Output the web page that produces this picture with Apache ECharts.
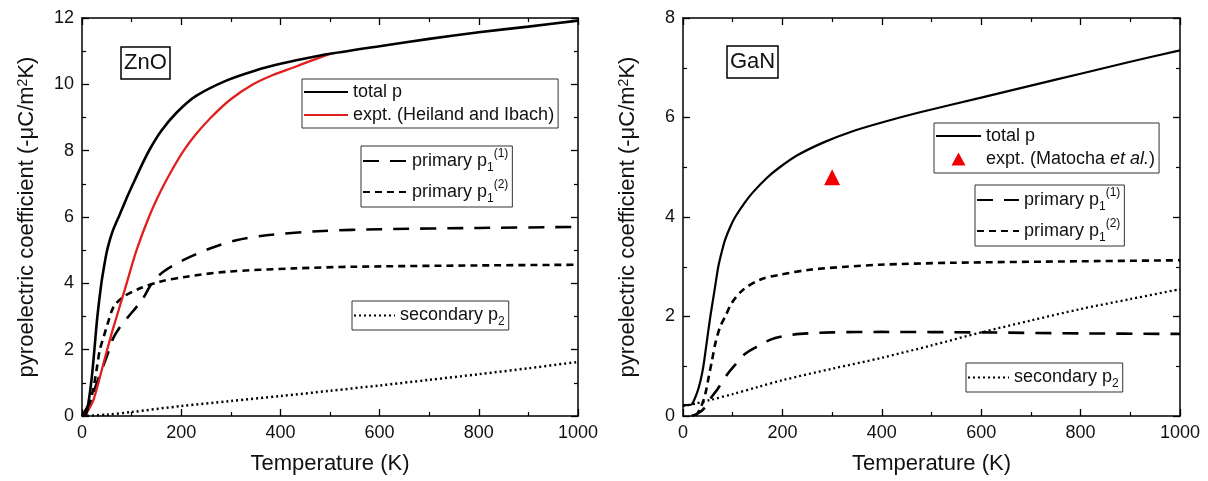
<!DOCTYPE html>
<html>
<head>
<meta charset="utf-8">
<script src="https://cdn.jsdelivr.net/npm/echarts@6/dist/echarts.min.js"></script>
<style>html,body{margin:0;padding:0;background:#fff}#c{width:1208px;height:481px}</style>
</head>
<body>
<div id="c"></div>
<script>
// ---------- data ----------
const xTicks = [0, 200, 400, 600, 800, 1000];
const yTicksZnO = [0, 2, 4, 6, 8, 10, 12];
const yTicksGaN = [0, 2, 4, 6, 8];

// ZnO
const znoTotalT = [0, 8, 13, 20, 25, 31, 39, 45, 50, 56, 62, 68, 74, 88, 103, 120, 137, 160, 191, 230, 292, 350, 400, 450, 500, 600, 700, 800, 900, 1000];
const znoTotalP = [0, 0.05, 0.4, 1.2, 2.0, 3.0, 4.0, 4.55, 4.95, 5.3, 5.58, 5.8, 6.0, 6.5, 7.0, 7.55, 8.05, 8.6, 9.15, 9.65, 10.12, 10.42, 10.62, 10.78, 10.92, 11.15, 11.37, 11.57, 11.74, 11.92];
const znoExptT = [0, 5, 13, 23, 33, 47, 60, 70, 90, 110, 135, 158, 180, 205, 230, 260, 300, 345, 385, 425, 465, 500];
const znoExptP = [0, 0.02, 0.18, 0.48, 1.0, 1.79, 2.5, 3.0, 4.0, 5.0, 6.0, 6.76, 7.38, 8.0, 8.5, 9.0, 9.55, 10.0, 10.28, 10.5, 10.73, 10.92];
const znoP11T = [0, 15, 30, 45, 56, 63, 77, 91, 121, 141, 164, 204, 258, 311, 372, 486, 600, 800, 1000];
const znoP11P = [0, 0.4, 1.0, 1.6, 2.05, 2.35, 2.69, 2.95, 3.5, 4.0, 4.35, 4.7, 5.05, 5.3, 5.45, 5.58, 5.63, 5.67, 5.7];
const znoP12T = [0, 12, 18, 25, 30, 36, 44, 51, 64, 84, 117, 157, 211, 292, 426, 546, 800, 1000];
const znoP12P = [0, 0.2, 0.5, 1.0, 1.45, 2.0, 2.4, 2.75, 3.3, 3.6, 3.85, 4.05, 4.2, 4.35, 4.45, 4.5, 4.54, 4.56];
const znoP2T = [0, 50, 100, 200, 300, 400, 500, 600, 700, 800, 900, 1000];
const znoP2P = [0, 0.04, 0.12, 0.3, 0.45, 0.6, 0.76, 0.92, 1.09, 1.26, 1.44, 1.63];

// GaN
const ganTotalT = [0, 10, 18, 28, 35, 41, 48, 55, 63, 71, 78, 85, 95, 105, 125, 141, 168, 192, 230, 283, 340, 400, 475, 600, 700, 800, 900, 1000];
const ganTotalP = [0.22, 0.22, 0.24, 0.46, 0.7, 1.0, 1.5, 2.0, 2.5, 3.0, 3.3, 3.55, 3.8, 4.0, 4.3, 4.5, 4.78, 4.98, 5.24, 5.5, 5.72, 5.9, 6.1, 6.4, 6.64, 6.88, 7.12, 7.35];
const ganExptT = [300];
const ganExptP = [4.8];
const ganP11T = [17, 30, 43, 53, 70, 90, 105, 125, 150, 175, 200, 235, 300, 400, 600, 800, 1000];
const ganP11P = [0, 0.05, 0.16, 0.32, 0.55, 0.85, 1.03, 1.25, 1.4, 1.53, 1.6, 1.65, 1.68, 1.69, 1.68, 1.66, 1.65];
const ganP12T = [25, 35, 45, 52, 58, 66, 75, 85, 98, 121, 155, 195, 255, 328, 395, 541, 800, 1000];
const ganP12P = [0, 0.15, 0.45, 0.8, 1.1, 1.5, 1.8, 2.0, 2.27, 2.54, 2.74, 2.84, 2.94, 3.0, 3.04, 3.08, 3.11, 3.13];
const ganP2T = [0, 25, 54, 100, 150, 200, 300, 400, 500, 600, 700, 800, 900, 1000];
const ganP2P = [0.2, 0.25, 0.32, 0.44, 0.58, 0.72, 0.95, 1.17, 1.42, 1.68, 1.92, 2.15, 2.35, 2.55];

const legendLabels = {
  zno_total: 'total p',
  zno_expt: 'expt. (Heiland and Ibach)',
  zno_p11: 'primary p{sub|1}{sup|(1)}',
  zno_p12: 'primary p{sub|1}{sup|(2)}',
  zno_p2: 'secondary p{sub|2}',
  gan_total: 'total p',
  gan_expt: 'expt. (Matocha {it|et al.})',
  gan_p11: 'primary p{sub|1}{sup|(1)}',
  gan_p12: 'primary p{sub|1}{sup|(2)}',
  gan_p2: 'secondary p{sub|2}'
};

// ---------- build ----------
const FONT = "'Liberation Sans', Arial, sans-serif";
const TXT = '#111';
const pairs = (xs, ys) => xs.map((x, i) => [x, ys[i]]);

function xAx(grid, pos, show) {
  return {
    type: 'value', gridIndex: grid, position: pos, min: xTicks[0], max: xTicks[xTicks.length - 1],
    interval: xTicks[1] - xTicks[0],
    axisLine: { show: true, onZero: false, lineStyle: { color: '#000', width: 1.5 } },
    axisTick: { show: true, inside: true, length: 7, lineStyle: { color: '#000', width: 1.3 } },
    minorTick: { show: true, splitNumber: 2, length: 4, lineStyle: { color: '#000', width: 1.2 } },
    splitLine: { show: false },
    axisLabel: { show: show, fontSize: 18, color: TXT, margin: 8, fontFamily: FONT, formatter: v => String(v) },
    name: show ? 'Temperature (K)' : '', nameLocation: 'middle', nameGap: 37,
    nameTextStyle: { fontSize: 22, color: TXT, fontFamily: FONT }
  };
}
function yAx(grid, pos, show, ticks) {
  return {
    type: 'value', gridIndex: grid, position: pos, min: ticks[0], max: ticks[ticks.length - 1],
    interval: ticks[1] - ticks[0],
    axisLine: { show: true, onZero: false, lineStyle: { color: '#000', width: 1.5 } },
    axisTick: { show: true, inside: true, length: 7, lineStyle: { color: '#000', width: 1.3 } },
    minorTick: { show: true, splitNumber: 2, length: 4, lineStyle: { color: '#000', width: 1.2 } },
    splitLine: { show: false },
    axisLabel: { show: show, fontSize: 18, color: TXT, margin: 8, fontFamily: FONT, formatter: v => String(v) },
    name: show ? 'pyroelectric coefficient (-μC/m{sup|2}K)' : '', nameLocation: 'middle', nameGap: 44,
    nameTextStyle: { fontSize: 22, color: TXT, fontFamily: FONT,
      rich: { sup: { fontSize: 14, verticalAlign: 'top', lineHeight: 14, fontFamily: FONT, color: TXT } } }
  };
}

const LONG = [16, 11], SHORT = [7, 5], DOT = [2, 3];
function line(name, xi, yi, xs, ys, color, width, type) {
  return {
    name: name, type: 'line', xAxisIndex: xi, yAxisIndex: yi, data: pairs(xs, ys),
    symbol: 'none', smooth: 0.3, animation: false, z: 3,
    lineStyle: { color: color, width: width, type: type, cap: 'butt' },
    itemStyle: { color: color }
  };
}

// triangle icon padded to the legend item box so that it is not stretched
const TRI_ICON = 'path://M0,7L0.01,7Z M45,7L44.99,7Z M15.5,14L22.5,1L29.5,14Z';

const richLegend = {
  sub: { fontSize: 12, verticalAlign: 'bottom', lineHeight: 14, fontFamily: FONT, color: TXT },
  sup: { fontSize: 12, verticalAlign: 'top', lineHeight: 14, fontFamily: FONT, color: TXT },
  it: { fontSize: 18, fontStyle: 'italic', fontFamily: FONT, color: TXT }
};
function leg(names, left, top, itemWidth, lineHeight, gap, pad) {
  return {
    data: names.map(n => n === 'gan_expt'
      ? { name: n, icon: TRI_ICON, itemStyle: { color: '#f00000', borderWidth: 0 } }
      : { name: n, itemStyle: { opacity: 0, color: 'rgba(0,0,0,0)', borderWidth: 0 } }),
    left: left, top: top, orient: 'vertical', itemWidth: itemWidth, itemHeight: 14,
    itemGap: gap, padding: pad, borderColor: '#333', borderWidth: 1, selectedMode: false,
    backgroundColor: '#fff',
    formatter: n => legendLabels[n],
    textStyle: { fontSize: 18, color: TXT, fontFamily: FONT, lineHeight: lineHeight, rich: richLegend }
  };
}

const option = {
  backgroundColor: '#fff',
  animation: false,
  title: [
    { text: 'ZnO', left: 121, top: 47, padding: [4, 3, 4, 3], borderColor: '#000', borderWidth: 1.5,
      textStyle: { fontSize: 22, fontWeight: 'normal', color: TXT, fontFamily: FONT, lineHeight: 24 } },
    { text: 'GaN', left: 727, top: 46, padding: [4, 3, 4, 3], borderColor: '#000', borderWidth: 1.5,
      textStyle: { fontSize: 22, fontWeight: 'normal', color: TXT, fontFamily: FONT, lineHeight: 24 } }
  ],
  grid: [
    { left: 82, top: 18, width: 496, height: 398 },
    { left: 683, top: 18, width: 497, height: 398 }
  ],
  xAxis: [xAx(0, 'bottom', true), xAx(0, 'top', false), xAx(1, 'bottom', true), xAx(1, 'top', false)],
  yAxis: [yAx(0, 'left', true, yTicksZnO), yAx(0, 'right', false, yTicksZnO), yAx(1, 'left', true, yTicksGaN), yAx(1, 'right', false, yTicksGaN)],
  legend: [
    leg(['zno_total', 'zno_expt'], 302, 79, 44, 20, 3, [3, 4, 3, 1]),
    leg(['zno_p11', 'zno_p12'], 361, 146, 44, 26, 5, [2, 4, 2, 1]),
    leg(['zno_p2'], 352, 301, 41, 25, 0, [2, 4, 2, 1]),
    leg(['gan_total', 'gan_expt'], 934, 123, 45, 20, 3, [3, 4, 4, 1]),
    leg(['gan_p11', 'gan_p12'], 975, 185, 42, 26, 5, [2, 4, 2, 1]),
    leg(['gan_p2'], 966, 363, 41, 25, 0, [2, 4, 2, 1])
  ],
  series: [
    line('zno_p2', 0, 0, znoP2T, znoP2P, '#000', 2.5, DOT),
    line('zno_p11', 0, 0, znoP11T, znoP11P, '#000', 2.6, LONG),
    line('zno_p12', 0, 0, znoP12T, znoP12P, '#000', 2.6, SHORT),
    line('zno_expt', 0, 0, znoExptT, znoExptP, '#e0201e', 2.3, 'solid'),
    line('zno_total', 0, 0, znoTotalT, znoTotalP, '#000', 2.6, 'solid'),
    line('gan_p2', 2, 2, ganP2T, ganP2P, '#000', 2.3, DOT),
    line('gan_p11', 2, 2, ganP11T, ganP11P, '#000', 2.6, LONG),
    line('gan_p12', 2, 2, ganP12T, ganP12P, '#000', 2.6, SHORT),
    line('gan_total', 2, 2, ganTotalT, ganTotalP, '#000', 2.2, 'solid'),
    { name: 'gan_expt', type: 'scatter', xAxisIndex: 2, yAxisIndex: 2, data: pairs(ganExptT, ganExptP),
      symbol: 'triangle', symbolSize: 16, symbolKeepAspect: true,
      itemStyle: { color: '#f00000', opacity: 1 }, z: 4 }
  ]
};

const chart = echarts.init(document.getElementById('c'), null, { renderer: 'canvas' });
chart.setOption(option);
</script>
</body>
</html>
